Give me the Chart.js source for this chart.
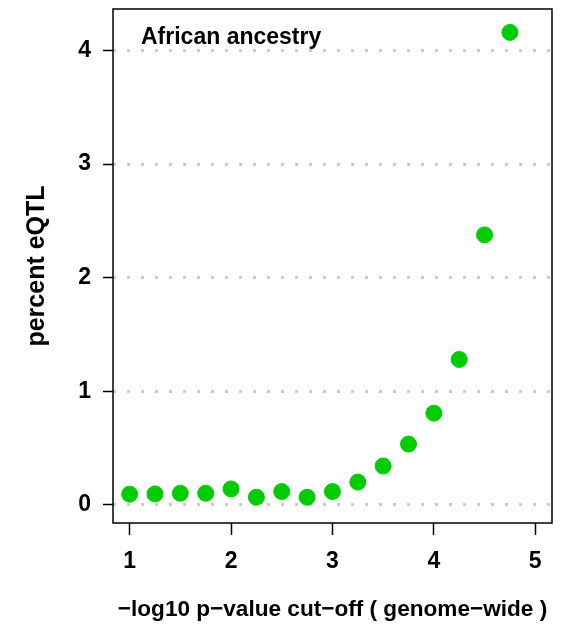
<!DOCTYPE html>
<html lang="en">
<head>
  <meta charset="UTF-8">
  <title>African ancestry</title>
  <style>
    * { margin: 0; padding: 0; }
    body { background: #fff; }
    .chartBox { width: 568px; height: 625px; }
  </style>
</head>
<body>
  <div class="chartBox">
    <canvas id="myChart"></canvas>
  </div>
  <script src="https://cdn.jsdelivr.net/npm/chart.js@4"></script>
  <script>
    // -log10 p-value cut-off
    const cutoffs = [1, 1.25, 1.5, 1.75, 2, 2.25, 2.5, 2.75, 3, 3.25, 3.5, 3.75, 4, 4.25, 4.5, 4.75];
    // percent eQTL
    const percentEqtl = [0.094, 0.096, 0.102, 0.102, 0.14, 0.067, 0.117, 0.067, 0.117, 0.2, 0.342, 0.535, 0.807, 1.28, 2.377, 4.16];
    const xTickValues = [1, 2, 3, 4, 5];
    const yTickValues = [0, 1, 2, 3, 4];

    const FONT = "'Liberation Sans', Arial, Helvetica, sans-serif";

    // panel label + box around plot region
    const panelPlugin = {
      id: 'panel',
      afterDraw(chart) {
        const { ctx, chartArea: a } = chart;
        ctx.save();
        ctx.strokeStyle = '#000';
        ctx.lineWidth = 1.5;
        ctx.strokeRect(a.left, a.top, a.right - a.left, a.bottom - a.top);
        ctx.fillStyle = '#000';
        ctx.font = 'bold 23px ' + FONT;
        ctx.textBaseline = 'alphabetic';
        ctx.fillText('African ancestry', a.left + 28, a.top + 35);
        ctx.restore();
      }
    };

    const data = {
      datasets: [{
        label: 'African ancestry',
        data: cutoffs.map((c, i) => ({ x: c, y: percentEqtl[i] })),
        backgroundColor: '#00cc00',
        borderColor: '#00cc00',
        pointRadius: 8,
        pointHoverRadius: 8,
        showLine: false
      }]
    };

    const options = {
      responsive: true,
      maintainAspectRatio: false,
      animation: false,
      layout: { padding: { left: 0, right: 16, top: 7, bottom: 0 } },
      plugins: {
        legend: { display: false },
        tooltip: { enabled: false }
      },
      scales: {
        x: {
          type: 'linear',
          min: 0.836,
          max: 5.165,
          afterBuildTicks: (scale) => { scale.ticks = xTickValues.map(v => ({ value: v })); },
          afterFit: (scale) => {
            scale.height = 102;
            scale.paddingLeft = 0;
            scale.paddingRight = 0;
          },
          border: { display: false },
          grid: {
            drawOnChartArea: false,
            drawTicks: true,
            tickLength: 12,
            tickColor: '#000',
            tickWidth: 1.5
          },
          ticks: {
            color: '#000',
            padding: 13,
            maxRotation: 0,
            font: { family: FONT, size: 23, weight: 'bold' }
          },
          title: {
            display: true,
            text: '\u2212log10 p\u2212value cut\u2212off ( genome\u2212wide )',
            color: '#000',
            padding: { top: 0, bottom: 2 },
            font: { family: FONT, size: 22.6, weight: 'bold' }
          }
        },
        y: {
          type: 'linear',
          min: -0.16,
          max: 4.366,
          afterBuildTicks: (scale) => { scale.ticks = yTickValues.map(v => ({ value: v })); },
          afterFit: (scale) => {
            scale.width = 113;
            scale.paddingTop = 0;
            scale.paddingBottom = 0;
          },
          border: { display: false, dash: [3, 11] },
          grid: {
            drawOnChartArea: true,
            color: '#cccccc',
            lineWidth: 3,
            drawTicks: true,
            tickLength: 10,
            tickColor: '#000',
            tickWidth: 1.5,
            tickBorderDash: []
          },
          ticks: {
            color: '#000',
            padding: 12,
            font: { family: FONT, size: 23, weight: 'bold' }
          },
          title: {
            display: true,
            text: 'percent eQTL',
            color: '#000',
            padding: { top: 22, bottom: 0 },
            font: { family: FONT, size: 25, weight: 'bold' }
          }
        }
      }
    };

    const ctx = document.getElementById('myChart').getContext('2d');
    const myChart = new Chart(ctx, {
      type: 'scatter',
      data: data,
      options: options,
      plugins: [panelPlugin]
    });
  </script>
</body>
</html>
